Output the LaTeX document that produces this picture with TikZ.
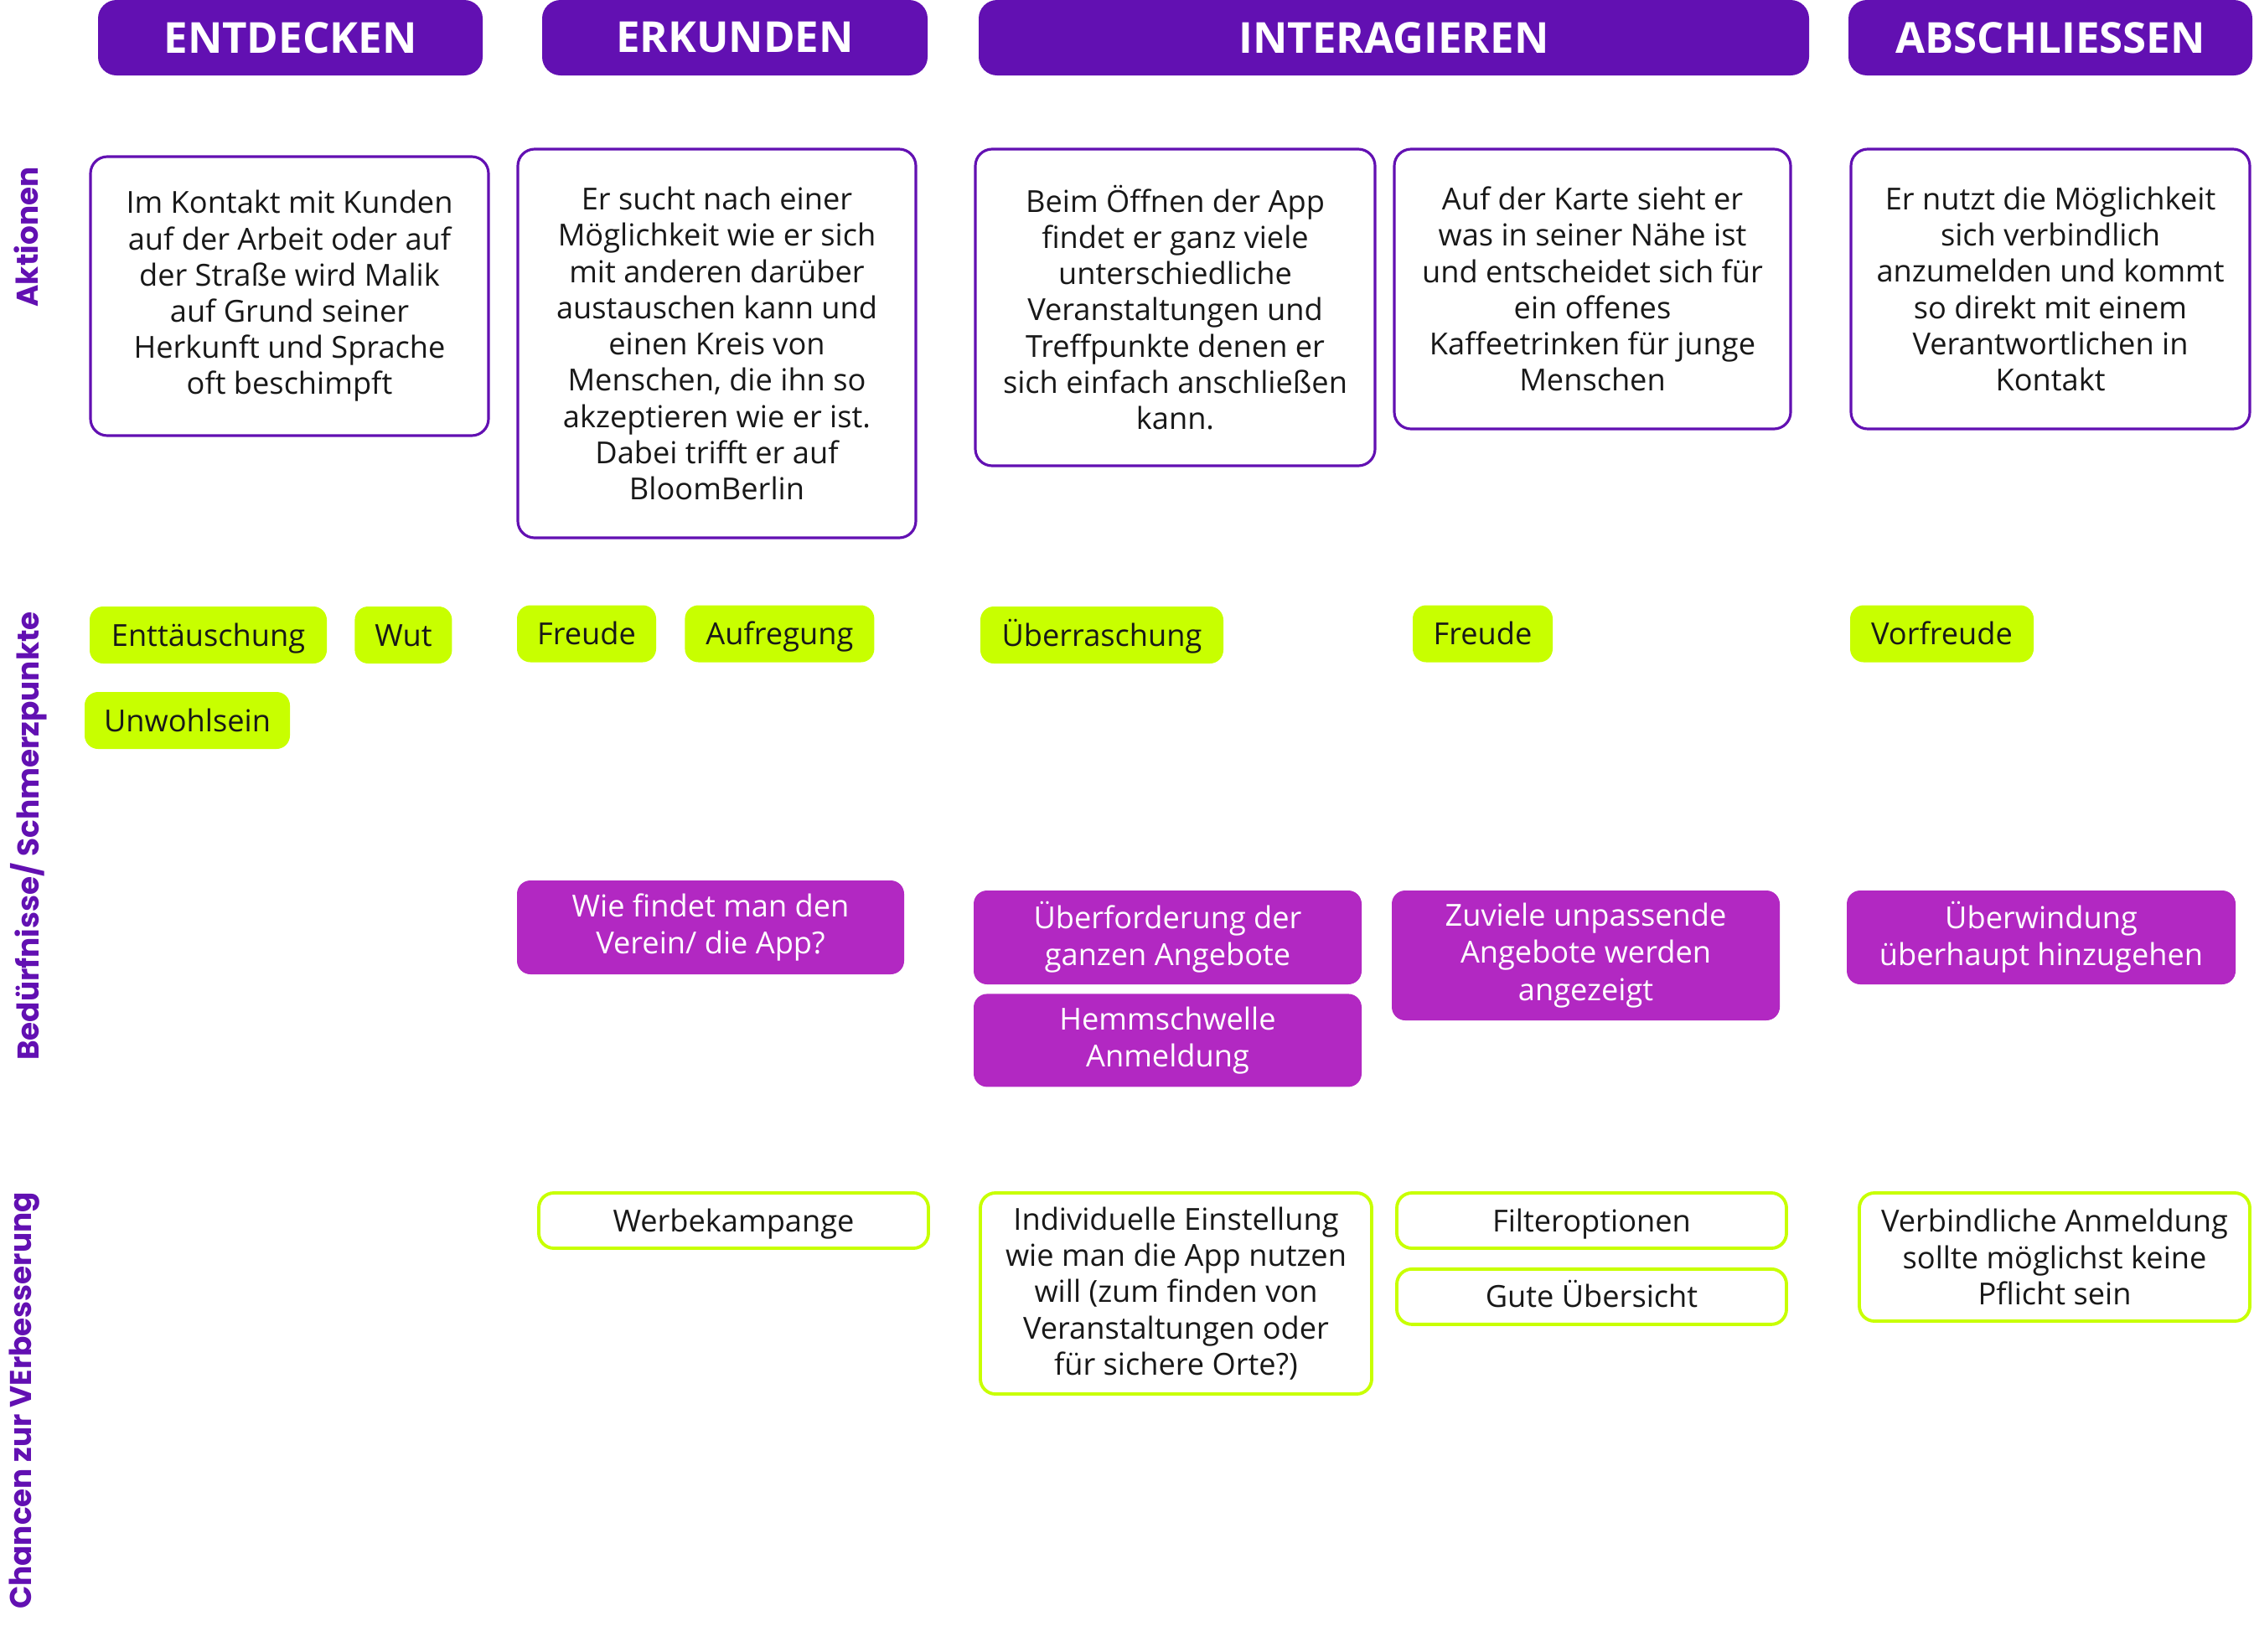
\documentclass[tikz,border=0pt]{standalone}
\usepackage{fontspec}
\setmainfont{Open Sans}
\newfontfamily\labelfont{Poppins}
\usepackage{tikz}
\usetikzlibrary{positioning}
\definecolor{bloomviolet}{RGB}{98,16,178}
\definecolor{bloomlime}{RGB}{200,255,0}
\definecolor{bloommagenta}{RGB}{178,40,194}
\definecolor{textgray}{RGB}{24,24,24}
\tikzset{
    headnode/.style={
        rectangle,
        rounded corners=0.22cm,
        fill=bloomviolet, % Phasen-Kopf
        text=white,
        minimum height=0.9cm,
        inner sep=0,
        font=\bfseries\fontsize{14.5}{17}\selectfont
    },
    actnode/.style={
        rectangle,
        rounded corners=0.2cm,
        draw=bloomviolet, % violetter Rand
        fill=white,
        line width=0.9pt,
        inner sep=0,
        align=center,
        text=textgray,
        font=\fontsize{10.3}{12.3}\selectfont
    },
    oneline/.style={
        text height=0.74em, % eine Zeile, mittig
        text depth=0pt
    },
    tagnode/.style={
        rectangle,
        rounded corners=0.16cm,
        fill=bloomlime, % Gefuehle
        minimum height=0.68cm,
        inner sep=0,
        oneline,
        text=textgray,
        font=\fontsize{10.3}{12.3}\selectfont
    },
    painnode/.style={
        rectangle,
        rounded corners=0.16cm,
        fill=bloommagenta, % Schmerzpunkte
        inner sep=0,
        align=center,
        text=white,
        font=\fontsize{10.3}{12.6}\selectfont
    },
    chancenode/.style={
        rectangle,
        rounded corners=0.18cm,
        draw=bloomlime, % gruener Rand
        fill=white,
        line width=1.1pt,
        inner sep=0,
        align=center,
        text=textgray,
        font=\fontsize{10.3}{12.3}\selectfont
    },
    rowlabel/.style={
        rotate=90,
        inner sep=0,
        text=bloomviolet,
        font=\labelfont\bfseries\fontsize{10.2}{12}\selectfont
    }
}

\begin{document}
\begin{tikzpicture}
    \useasboundingbox (0,0) rectangle (26.9,-19.71);
    % Phasen
    \node[headnode, minimum width=4.59cm] (entdecken) at (3.465,-0.45) {ENTDECKEN};
    \node[headnode, minimum width=4.60cm] (erkunden) at (8.77,-0.45) {ERKUNDEN};
    \node[headnode, minimum width=9.91cm] (interagieren) at (16.635,-0.45) {INTERAGIEREN};
    \node[headnode, minimum width=4.82cm] (abschliessen) at (24.47,-0.45) {ABSCHLIESSEN};

    % Zeilen
    \node[rowlabel] (rowakt) at (0.31,-2.83) {Aktionen};
    \node[rowlabel] (rowbed) at (0.34,-9.98) {Bedürfnisse/ Schmerzpunkte};
    \node[rowlabel] (rowcha) at (0.29,-16.72) {Chancen zur VErbesserung};

    % Aktionen
    \node[actnode, minimum width=4.75cm, minimum height=3.33cm] (akt1) at (3.455,-3.535)
        {Im Kontakt mit Kunden\\auf der Arbeit oder auf\\der Straße wird Malik\\auf Grund seiner\\Herkunft und Sprache\\oft beschimpft};
    \node[actnode, minimum width=4.75cm, minimum height=4.64cm] (akt2) at (8.555,-4.10)
        {Er sucht nach einer\\Möglichkeit wie er sich\\mit anderen darüber\\austauschen kann und\\einen Kreis von\\Menschen, die ihn so\\akzeptieren wie er ist.\\Dabei trifft er auf\\BloomBerlin};
    \node[actnode, minimum width=4.77cm, minimum height=3.78cm] (akt3) at (14.025,-3.67)
        {Beim Öffnen der App\\findet er ganz viele\\unterschiedliche\\Veranstaltungen und\\Treffpunkte denen er\\sich einfach anschließen\\kann.};
    \node[actnode, minimum width=4.73cm, minimum height=3.34cm] (akt4) at (19.005,-3.45)
        {Auf der Karte sieht er\\was in seiner Nähe ist\\und entscheidet sich für\\ein offenes\\Kaffeetrinken für junge\\Menschen};
    \node[actnode, minimum width=4.76cm, minimum height=3.34cm] (akt5) at (24.47,-3.45)
        {Er nutzt die Möglichkeit\\sich verbindlich\\anzumelden und kommt\\so direkt mit einem\\Verantwortlichen in\\Kontakt};

    % Gefuehle
    \node[tagnode, minimum width=2.83cm] (enttaeuschung) at (2.485,-7.58) {Enttäuschung};
    \node[tagnode, minimum width=1.16cm, right=0.32cm of enttaeuschung] (wut) {Wut};
    \node[tagnode, minimum width=2.45cm] (unwohlsein) at (2.235,-8.60) {Unwohlsein};
    \node[tagnode, minimum width=1.66cm] (freude) at (7.00,-7.565) {Freude};
    \node[tagnode, minimum width=2.26cm, right=0.33cm of freude] (aufregung) {Aufregung};
    \node[tagnode, minimum width=2.90cm] (ueberraschung) at (13.15,-7.58) {Überraschung};
    \node[tagnode, minimum width=1.67cm] (freudezwei) at (17.695,-7.565) {Freude};
    \node[tagnode, minimum width=2.19cm] (vorfreude) at (23.175,-7.565) {Vorfreude};

    % Schmerzpunkte
    \node[painnode, minimum width=4.62cm, minimum height=1.12cm] (verein) at (8.48,-11.07)
        {Wie findet man den\\Verein/ die App?};
    \node[painnode, minimum width=4.63cm, minimum height=1.12cm] (ueberforderung) at (13.935,-11.19)
        {Überforderung der\\ganzen Angebote};
    \node[painnode, minimum width=4.63cm, minimum height=1.11cm, below=0.10cm of ueberforderung] (hemmschwelle)
        {Hemmschwelle\\Anmeldung};
    \node[painnode, minimum width=4.63cm, minimum height=1.55cm] (zuviele) at (18.925,-11.405)
        {Zuviele unpassende\\Angebote werden\\angezeigt};
    \node[painnode, minimum width=4.64cm, minimum height=1.12cm] (ueberwindung) at (24.36,-11.19)
        {Überwindung\\überhaupt hinzugehen};

    % Chancen
    \node[chancenode, oneline, minimum width=4.65cm, minimum height=0.66cm] (werbung) at (8.755,-14.57)
        {Werbekampange};
    \node[chancenode, minimum width=4.67cm, minimum height=2.40cm] (einstellung) at (14.035,-15.44)
        {Individuelle Einstellung\\wie man die App nutzen\\will (zum finden von\\Veranstaltungen oder\\für sichere Orte?)};
    \node[chancenode, oneline, minimum width=4.65cm, minimum height=0.66cm] (filter) at (18.995,-14.57)
        {Filteroptionen};
    \node[chancenode, oneline, minimum width=4.65cm, minimum height=0.66cm, below=0.21cm of filter] (uebersicht)
        {Gute Übersicht};
    \node[chancenode, minimum width=4.66cm, minimum height=1.53cm] (verbindlich) at (24.52,-15.005)
        {Verbindliche Anmeldung\\sollte möglichst keine\\Pflicht sein};
\end{tikzpicture}
\end{document}
